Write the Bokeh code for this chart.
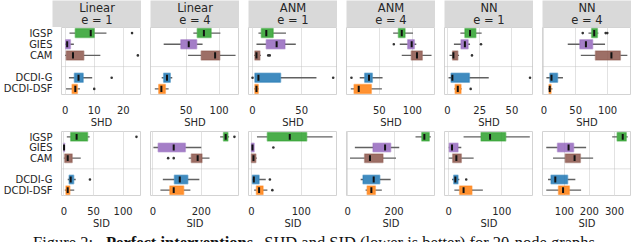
from bokeh.plotting import figure
from bokeh.models import Range1d, FixedTicker, Span, ColumnDataSource
from bokeh.layouts import column, row
from bokeh.core.properties import value
from bokeh.embed import file_html
from bokeh.resources import INLINE

FONT = "DejaVu Sans"

# ---------------- data ----------------
row_labels = ["IGSP", "GIES", "CAM", "", "DCDI-G", "DCDI-DSF"]
methods = ["IGSP", "GIES", "CAM", "DCDI-G", "DCDI-DSF"]
method_colors = ["#2ca02c", "#9467bd", "#8c564b", "#1f77b4", "#ff7f0e"]

panel_models = ["Linear", "Linear", "ANM", "ANM", "NN", "NN"]
panel_edges = [1, 4, 1, 4, 1, 4]

# [low whisker, q1, median, q3, high whisker] for IGSP, GIES, CAM, DCDI-G, DCDI-DSF
shd_linear_e1 = [[1.5, 3.5, 8.8, 10.0, 14.2], [0.0, 0.2, 0.7, 1.8, 3.0], [0.0, 0.4, 2.7, 6.4, 12.1],
                 [1.3, 3.2, 4.6, 6.2, 9.3], [0.3, 2.4, 3.5, 4.2, 5.1]]
shd_linear_e1_out = [[23], [], [25], [16], [10]]
shd_linear_e4 = [[61, 67, 77, 88, 102], [16, 42, 54, 66, 75], [53, 73, 94, 101, 125],
                 [13, 16, 21, 26, 29], [2.5, 8.5, 12.5, 18.5, 23.5]]
shd_linear_e4_out = [[], [], [], [], []]
shd_anm_e1 = [[6, 9, 14, 21, 34], [4, 14, 24.5, 33, 44], [1.6, 2.4, 4, 7.5, 8.5],
              [2.4, 2.4, 6, 28.5, 65], [1.6, 2.4, 4, 5.8, 6.5]]
shd_anm_e1_out = [[], [], [16, 17.5], [0, 82], []]
shd_anm_e4 = [[71, 79, 84, 89, 101], [81, 93, 99, 103, 106], [84, 98.5, 107, 115, 129],
              [20.5, 28, 34.5, 39.5, 55], [7, 12, 19, 38, 54]]
shd_anm_e4_out = [[], [72], [], [8], []]
shd_nn_e1 = [[10, 13.5, 17.5, 22, 26.5], [5, 10.5, 13.5, 16, 17.5], [1.6, 4, 4.6, 8, 9],
             [0.8, 2.8, 3.8, 17, 32], [5.3, 6, 8, 10.5, 11]]
shd_nn_e1_out = [[], [26], [19], [64], [18]]
shd_nn_e4 = [[70, 75, 79, 84, 85.5], [37.5, 56.5, 66, 76.5, 96], [58, 81, 106, 120, 131],
             [4, 9.5, 12, 21.5, 30], [7, 8.2, 9.3, 11.3, 13.5]]
shd_nn_e4_out = [[61, 97, 99.5], [], [], [], []]

sid_linear_e1 = [[5, 11.5, 21.5, 40, 43.5], [0, 0, 0.3, 1, 1], [0, 1.5, 6.5, 14, 28.5],
                 [6.5, 9, 11.5, 16.5, 20], [1.5, 3.5, 6.5, 10, 17.5]]
sid_linear_e1_out = [[122.5], [], [], [44], []]
sid_linear_e4 = [[278, 292, 301, 310, 315], [2, 22, 86, 134, 200], [148, 159, 185, 203, 234],
                 [41, 89, 111, 144, 192], [31, 70, 86, 127, 155]]
sid_linear_e4_out = [[337], [], [63, 86], [], []]
sid_anm_e1 = [[11, 32, 77, 111, 163], [0, 0, 2, 5.3, 5.3], [0, 0, 4, 8.7, 10.7],
              [1.3, 2, 4.7, 15.3, 28.7], [5.3, 10, 15.3, 23.3, 32]]
sid_anm_e1_out = [[], [44], [], [37], [42]]
sid_anm_e4 = [[292, 319, 330, 351, 358], [31, 109, 161, 185, 222], [10, 73, 96, 152, 208],
              [56, 66, 112, 138, 185], [77, 84, 102, 119, 147]]
sid_anm_e4_out = [[], [], [], [], []]
sid_nn_e1 = [[28, 61, 78, 107.5, 153], [0, 1.2, 6.2, 17.5, 23.7], [0, 7.5, 14.4, 23.7, 47],
             [6.2, 9.4, 12.5, 17.5, 20], [10.6, 20.6, 28, 43.7, 64.4]]
sid_nn_e1_out = [[], [], [], [33], []]
sid_nn_e4 = [[291, 311, 333, 347, 353], [28, 73, 117, 137, 187], [55, 104, 141, 164, 215],
             [35, 47, 64, 113, 144], [28, 77, 95, 120, 167]]
sid_nn_e4_out = [[], [], [], [], []]

shd_panels = [shd_linear_e1, shd_linear_e4, shd_anm_e1, shd_anm_e4, shd_nn_e1, shd_nn_e4]
shd_outliers = [shd_linear_e1_out, shd_linear_e4_out, shd_anm_e1_out, shd_anm_e4_out, shd_nn_e1_out, shd_nn_e4_out]
shd_ranges = [(-1.25, 26.25), (-4, 131), (-4.1, 86.4), (0.5, 135), (-2.3, 66.7), (-2.1, 137.5)]
shd_ticks = [[0, 10, 20], [50, 100], [0, 50], [50, 100], [0, 25, 50], [0, 50, 100]]

sid_panels = [sid_linear_e1, sid_linear_e4, sid_anm_e1, sid_anm_e4, sid_nn_e1, sid_nn_e4]
sid_outliers = [sid_linear_e1_out, sid_linear_e4_out, sid_anm_e1_out, sid_anm_e4_out, sid_nn_e1_out, sid_nn_e4_out]
sid_ranges = [(-4, 131), (-10, 358), (-6, 173), (-5, 378), (-8, 160), (13, 368)]
sid_ticks = [[0, 50, 100], [0, 200], [0, 100], [0, 200], [0, 100], [100, 200, 300]]

caption_parts = ["Figure 2:", "Perfect interventions.", "SHD and SID (lower is better) for 20-node graphs"]

# ---------------- layout ----------------
LEFT = 52
GAP = 9
PW = 89
HEAD_H = 27
TOP_FH, TOP_BB = 67, 37
BOT_FH, BOT_BB = 66, 34
CAP_H = 11
TOTAL_W = LEFT + PW + 5 * (GAP + PW)

TEXT_COL = "#262626"
GRID_COL = "#e2e2e2"
FRAME_COL = "#d3d3d3"


def header(col, model, edges):
    left = LEFT if col == 0 else GAP
    h = figure(width=left + PW, height=HEAD_H, x_range=Range1d(0, 1), y_range=Range1d(0, 1),
               x_axis_type=None, y_axis_type=None, output_backend="svg", toolbar_location=None,
               min_border_left=left, min_border_right=0, min_border_top=0, min_border_bottom=0)
    h.background_fill_color = "#d9d9d9"
    h.border_fill_color = "white"
    h.outline_line_color = None
    h.text(x=[0.5, 0.5], y=[0.72, 0.27], text=[model, f"e = {edges}"], text_align="center",
           text_baseline="middle", text_font=value(FONT), text_font_size="11.5px", text_color=TEXT_COL)
    return h


def panel(col, stats, outs, xr, ticks, xlabel, fh, bb):
    left = LEFT if col == 0 else GAP
    p = figure(width=left + PW, height=fh + bb, x_range=Range1d(*xr), y_range=Range1d(5.5, -0.5),
               y_axis_type="linear" if col == 0 else None,
               output_backend="svg", toolbar_location=None,
               min_border_left=left, min_border_right=0, min_border_top=0, min_border_bottom=bb)
    p.background_fill_color = "white"
    p.border_fill_color = "white"
    p.outline_line_color = FRAME_COL
    p.outline_line_width = 1

    ax = p.xaxis[0]
    ax.ticker = FixedTicker(ticks=ticks)
    ax.major_tick_line_color = None
    ax.minor_tick_line_color = None
    ax.axis_line_color = None
    ax.major_label_text_font = FONT
    ax.major_label_text_font_size = "10px"
    ax.major_label_text_color = TEXT_COL
    ax.major_label_standoff = 5
    ax.axis_label = xlabel
    ax.axis_label_text_font = FONT
    ax.axis_label_text_font_style = "normal"
    ax.axis_label_text_font_size = "10px"
    ax.axis_label_text_color = TEXT_COL
    ax.axis_label_standoff = 0
    p.xgrid.grid_line_color = GRID_COL
    p.xgrid.grid_line_width = 1

    if col == 0:
        ya = p.yaxis[0]
        idx = [i for i, l in enumerate(row_labels) if l]
        ya.ticker = FixedTicker(ticks=idx)
        ya.major_label_overrides = {i: row_labels[i] for i in idx}
        ya.major_tick_line_color = None
        ya.minor_tick_line_color = None
        ya.axis_line_color = None
        ya.major_label_text_font = FONT
        ya.major_label_text_font_size = "10px"
        ya.major_label_text_color = TEXT_COL
        ya.major_label_standoff = 3
        p.ygrid.grid_line_color = None

    sep = row_labels.index("")
    p.add_layout(Span(location=sep, dimension="width", line_color="#c4c4c4",
                      line_dash="1 1", line_width=1))

    ys = [row_labels.index(m) for m in methods]
    src = ColumnDataSource(dict(
        y=ys,
        lo=[s[0] for s in stats], q1=[s[1] for s in stats], med=[s[2] for s in stats],
        q3=[s[3] for s in stats], hi=[s[4] for s in stats], color=method_colors))
    p.segment(x0="lo", y0="y", x1="q1", y1="y", source=src, line_color="#616161", line_width=1.3)
    p.segment(x0="q3", y0="y", x1="hi", y1="y", source=src, line_color="#616161", line_width=1.3)
    p.hbar(y="y", left="q1", right="q3", height=0.8, source=src, fill_color="color", fill_alpha=0.85,
           line_color="color", line_alpha=0.45, line_width=1.5)
    p.rect(x="med", y="y", width=2, height=0.55, width_units="screen", source=src,
           fill_color="#111111", line_color=None)

    ox, oy = [], []
    for m, o in zip(methods, outs):
        for v in o:
            ox.append(v)
            oy.append(row_labels.index(m))
    if ox:
        p.scatter(x=ox, y=oy, size=2.6, fill_color="#333333", line_color=None)
    return p


headers = [header(i, panel_models[i], panel_edges[i]) for i in range(6)]
tops = [panel(i, shd_panels[i], shd_outliers[i], shd_ranges[i], shd_ticks[i], "SHD", TOP_FH, TOP_BB)
        for i in range(6)]
bots = [panel(i, sid_panels[i], sid_outliers[i], sid_ranges[i], sid_ticks[i], "SID", BOT_FH, BOT_BB)
        for i in range(6)]

cap = figure(width=TOTAL_W, height=CAP_H, x_range=Range1d(0, TOTAL_W), y_range=Range1d(0, CAP_H),
             x_axis_type=None, y_axis_type=None, output_backend="svg", toolbar_location=None,
             min_border_left=0, min_border_right=0, min_border_top=0, min_border_bottom=0)
cap.outline_line_color = None
cap.grid.visible = False
cap_x = [32.6, 105.5, 263.7]
cap_styles = ["normal", "bold", "normal"]
for x, t, st in zip(cap_x, caption_parts, cap_styles):
    cap.text(x=[x], y=[CAP_H - 0.8], text=[t], text_align="left", text_baseline="top",
             text_font=value("Liberation Serif"), text_font_size="16.5px", text_font_style=st,
             text_color="#111111")

layout = column(row(*headers), row(*tops), row(*bots), cap)

open("out.html", "w").write(file_html(layout, INLINE))
